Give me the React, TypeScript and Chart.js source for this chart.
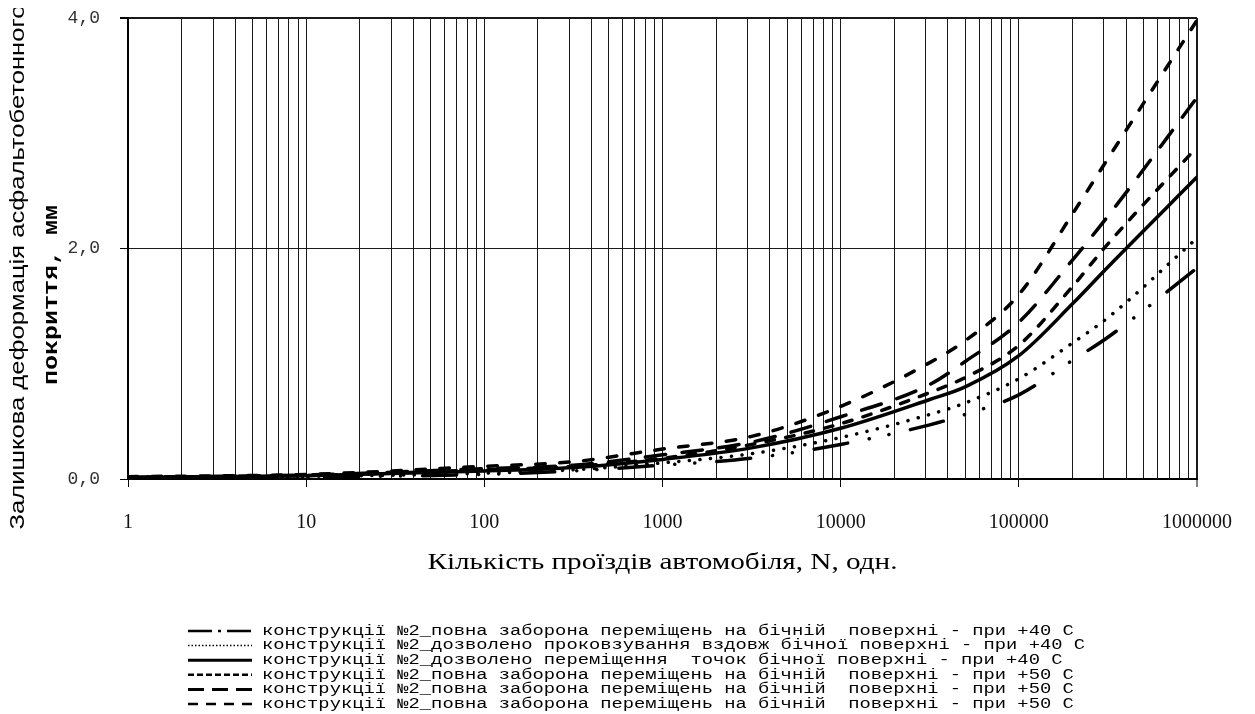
import React, { useEffect, useRef } from 'react';
import { Chart, registerables } from 'chart.js';

Chart.register(...registerables);

// Number of vehicle passes N
const passes = [1, 10, 100, 316, 1000, 3162, 10000, 31623, 50000, 100000, 200000, 316228, 1000000];

// Residual deformation, mm
const fullBan40 = [0.008, 0.018, 0.04, 0.07, 0.12, 0.18, 0.3, 0.47, 0.56, 0.73, 1.03, 1.23, 1.83];
const slip40 = [0.01, 0.022, 0.05, 0.08, 0.14, 0.22, 0.36, 0.56, 0.66, 0.87, 1.18, 1.4, 2.09];
const move40 = [0.012, 0.028, 0.07, 0.1, 0.17, 0.27, 0.44, 0.69, 0.8, 1.07, 1.52, 1.84, 2.62];
const fullBan50a = [0.015, 0.03, 0.08, 0.11, 0.18, 0.3, 0.48, 0.75, 0.88, 1.16, 1.67, 2.04, 2.88];
const fullBan50b = [0.015, 0.035, 0.09, 0.12, 0.21, 0.32, 0.54, 0.82, 1.02, 1.36, 1.9, 2.28, 3.31];
const fullBan50c = [0.02, 0.04, 0.11, 0.15, 0.26, 0.37, 0.63, 1.01, 1.2, 1.6, 2.3, 2.78, 3.98];

const seriesLabels = [
  'конструкції №2_повна заборона переміщень на бічній  поверхні - при +40 С',
  'конструкції №2_дозволено проковзування вздовж бічної поверхні - при +40 С',
  'конструкції №2_дозволено переміщення  точок бічної поверхні - при +40 С',
  'конструкції №2_повна заборона переміщень на бічній  поверхні - при +50 С',
  'конструкції №2_повна заборона переміщень на бічній  поверхні - при +50 С',
  'конструкції №2_повна заборона переміщень на бічній  поверхні - при +50 С',
];

const decades = [1, 10, 100, 1000, 10000, 100000, 1000000];
const decadeLabels = ['1', '10', '100', '1000', '10000', '100000', '1000000'];
const minorSteps = [1, 2, 3, 4, 5, 6, 7, 8, 9];

const yTicks = [0, 2, 4];
const yTickLabels = ['0,0', '2,0', '4,0'];

const xTitle = 'Кількість проїздів автомобіля, N, одн.';
const yTitleLines = ['Залишкова деформація асфальтобетонного', 'покриття, мм'];

const seriesValues = [fullBan40, slip40, move40, fullBan50a, fullBan50b, fullBan50c];
const lineDashes = [
  [34, 22, 0.1, 20, 0.1, 22],
  [0.1, 10.5],
  [],
  [8.5, 11.5],
  [20.5, 16.5],
  [9.5, 14.5],
];
const capStyles = ['round', 'round', 'butt', 'round', 'round', 'round'];
const legendDashes = [[24, 6, 3, 6], [1.5, 2], [], [6, 3], [16, 8], [10, 8]];
const legendWidths = [2.5, 1.5, 3, 2.5, 3, 2.5];

const isDecade = (v: number) => {
  const l = Math.log10(v);
  return Math.abs(l - Math.round(l)) < 1e-9;
};

const textPlugin = {
  id: 'customTexts',
  afterDraw(chart: any) {
    const ctx = chart.ctx as CanvasRenderingContext2D;
    const area = chart.chartArea;

    const stretched = (
      text: string,
      font: string,
      cx: number,
      cy: number,
      len: number,
      rotate: boolean
    ) => {
      ctx.save();
      ctx.font = font;
      const w = ctx.measureText(text).width;
      ctx.translate(cx, cy);
      if (rotate) ctx.rotate(-Math.PI / 2);
      ctx.scale(len / w, 1);
      ctx.textAlign = 'center';
      ctx.textBaseline = 'middle';
      ctx.fillStyle = '#000';
      ctx.fillText(text, 0, 0);
      ctx.restore();
    };

    // y axis title (two lines)
    stretched(yTitleLines[0], '21px "Liberation Sans"', 10, 259, 525, true);
    stretched(yTitleLines[1], 'bold 20px "Liberation Mono"', 44, 287, 180, true);

    // x axis title
    stretched(xTitle, '24px "Liberation Serif"', (area.left + area.right) / 2, 555, 470, false);

    // legend
    const legendFont = '14px "Liberation Mono"';
    ctx.save();
    ctx.font = legendFont;
    const longest = Math.max(...chart.data.datasets.map((d: any) => ctx.measureText(d.label).width));
    ctx.restore();
    const sx = 823 / longest;
    chart.data.datasets.forEach((ds: any, i: number) => {
      const y = 623 + i * 14.6;
      ctx.save();
      ctx.strokeStyle = '#000';
      ctx.lineWidth = legendWidths[i];
      ctx.setLineDash(legendDashes[i]);
      ctx.beginPath();
      ctx.moveTo(180, y);
      ctx.lineTo(244, y);
      ctx.stroke();
      ctx.restore();
      ctx.save();
      ctx.font = legendFont;
      ctx.translate(254, y);
      ctx.scale(sx, 1);
      ctx.textAlign = 'left';
      ctx.textBaseline = 'middle';
      ctx.fillStyle = '#000';
      ctx.fillText(ds.label, 0, 0);
      ctx.restore();
    });
  },
};

export default function App() {
  const ref = useRef<HTMLCanvasElement | null>(null);

  useEffect(() => {
    if (!ref.current) return;
    const gridValues: number[] = [];
    decades.forEach((d, i) => {
      if (i === decades.length - 1) {
        gridValues.push(d);
      } else {
        minorSteps.forEach((m) => gridValues.push(m * d));
      }
    });

    const chart = new Chart(ref.current, {
      type: 'line',
      data: {
        datasets: seriesValues.map((vals, i) => ({
          label: seriesLabels[i],
          data: vals.map((y, j) => ({ x: passes[j], y })),
          borderColor: '#000',
          backgroundColor: '#000',
          borderWidth: 3.5,
          borderDash: lineDashes[i],
          borderCapStyle: capStyles[i] as any,
          pointRadius: 0,
          fill: false,
          cubicInterpolationMode: 'monotone' as const,
        })),
      },
      options: {
        animation: false,
        responsive: false,
        devicePixelRatio: 1,
        layout: { padding: { top: 10, right: 50, bottom: 115, left: 0 } },
        plugins: {
          tooltip: { enabled: false },
          legend: { display: false },
        },
        scales: {
          x: {
            type: 'logarithmic',
            min: 1,
            max: 1000000,
            afterBuildTicks: (scale: any) => {
              scale.ticks = gridValues.map((v) => ({ value: v, major: isDecade(v) }));
            },
            afterFit: (scale: any) => {
              scale.height = 120;
              scale.paddingLeft = 0;
              scale.paddingRight = 0;
            },
            ticks: {
              autoSkip: false,
              maxRotation: 0,
              minRotation: 0,
              padding: 24,
              color: '#111',
              font: { family: '"Liberation Serif"', size: 20 },
              callback: (v: any) => {
                const idx = decades.findIndex((d) => Math.abs(d - Number(v)) < 1e-6);
                return idx >= 0 ? decadeLabels[idx] : '';
              },
            },
            grid: {
              color: '#1a1a1a',
              lineWidth: (c: any) => (c.tick && c.tick.value === 1000000 ? 2 : 1),
              tickLength: 8,
              tickColor: (c: any) => (c.tick && isDecade(c.tick.value) ? '#000' : 'rgba(0,0,0,0)'),
              tickWidth: 1,
            },
            border: { display: true, color: '#000', width: 2 },
            title: { display: false },
          },
          y: {
            type: 'linear',
            min: 0,
            max: 4,
            afterFit: (scale: any) => {
              scale.width = 120;
              scale.paddingTop = 0;
              scale.paddingBottom = 0;
            },
            ticks: {
              stepSize: 2,
              padding: 20,
              color: '#333',
              font: { family: '"Liberation Mono"', size: 18 },
              callback: (v: any) => {
                const idx = yTicks.indexOf(Number(v));
                return idx >= 0 ? yTickLabels[idx] : '';
              },
            },
            grid: {
              color: '#1a1a1a',
              lineWidth: (c: any) => (c.tick && c.tick.value === 4 ? 2 : 1),
              tickLength: 8,
              tickColor: '#000',
            },
            border: { display: true, color: '#000', width: 2 },
            title: { display: false },
          },
        },
      },
      plugins: [textPlugin],
    } as any);

    return () => chart.destroy();
  }, []);

  return (
    <div style={{ width: 1239, height: 706 }}>
      <canvas ref={ref} width={1239} height={706} style={{ display: 'block' }} />
    </div>
  );
}
